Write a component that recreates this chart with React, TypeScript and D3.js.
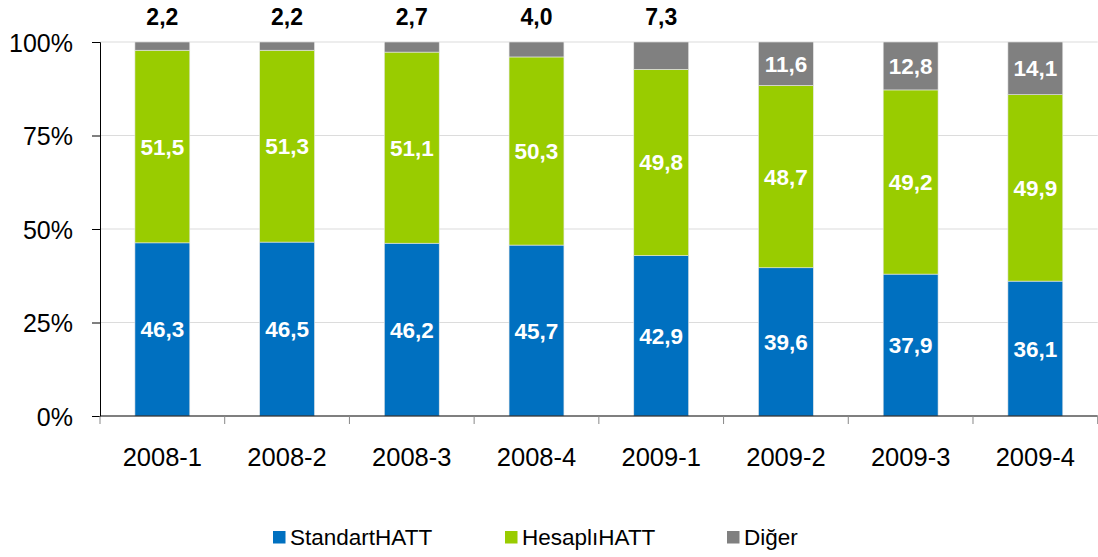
import { useEffect, useRef } from 'react';
import * as d3 from 'd3';

const categories = ['2008-1', '2008-2', '2008-3', '2008-4', '2009-1', '2009-2', '2009-3', '2009-4'];
const seriesNames = ['StandartHATT', 'HesaplıHATT', 'Diğer'];
const standart = [46.3, 46.5, 46.2, 45.7, 42.9, 39.6, 37.9, 36.1];
const hesapli = [51.5, 51.3, 51.1, 50.3, 49.8, 48.7, 49.2, 49.9];
const diger = [2.2, 2.2, 2.7, 4.0, 7.3, 11.6, 12.8, 14.1];
const yTicks = [0, 0.25, 0.5, 0.75, 1];
const colors = ['#0070C0', '#99CC00', '#808080'];

const fmt = (v: number) => v.toFixed(1).replace('.', ',');

export default function App() {
  const svgRef = useRef<SVGSVGElement>(null);
  const width = 1098;
  const height = 557;

  useEffect(() => {
    const svg = d3.select(svgRef.current);
    svg.selectAll('*').remove();

    const font = 'Liberation Sans, Arial, sans-serif';
    const left = 100, right = 1097.7, top = 42, bottom = 416;

    const rows = categories.map((c, i) => ({ cat: c, s0: standart[i], s1: hesapli[i], s2: diger[i] }));
    const keys = ['s0', 's1', 's2'];
    const stacked = d3.stack<any>().keys(keys).offset(d3.stackOffsetExpand)(rows);

    const x = d3.scaleBand().domain(categories).range([left, right]).paddingInner(0.56).paddingOuter(0.28);
    const xb = d3.scaleBand().domain(categories).range([left, right]);
    const y = d3.scaleLinear().domain([0, 1]).range([bottom, top]);

    // gridlines
    svg.append('g').selectAll('line')
      .data(yTicks.filter(t => t > 0))
      .enter().append('line')
      .attr('x1', left).attr('x2', right)
      .attr('y1', d => y(d)).attr('y2', d => y(d))
      .attr('stroke', '#dcdcdc').attr('stroke-width', 1.2);

    // bars
    stacked.forEach((layer, li) => {
      svg.append('g').selectAll('rect')
        .data(layer)
        .enter().append('rect')
        .attr('x', (d: any) => x(d.data.cat)!)
        .attr('width', x.bandwidth())
        .attr('y', d => y(d[1]))
        .attr('height', d => y(d[0]) - y(d[1]))
        .attr('fill', colors[li])
        .attr('stroke', '#e6e6e6')
        .attr('stroke-width', 0.6);
    });

    // labels
    const valueSets = [standart, hesapli, diger];
    stacked.forEach((layer, li) => {
      layer.forEach((d: any, i: number) => {
        const v = valueSets[li][i];
        const cx = x(d.data.cat)! + x.bandwidth() / 2;
        const h = y(d[0]) - y(d[1]);
        const outside = li === 2 && h < 30;
        svg.append('text')
          .attr('x', cx)
          .attr('y', outside ? 25 : (y(d[0]) + y(d[1])) / 2 + 8)
          .attr('text-anchor', 'middle')
          .style('font-family', font)
          .style('font-size', outside ? '23px' : '22.5px')
          .style('font-weight', 'bold')
          .style('fill', outside ? '#000' : '#fff')
          .text(fmt(v));
      });
    });

    // y axis
    const yAxis = svg.append('g').attr('transform', `translate(${left},0)`)
      .call(d3.axisLeft(y).tickValues(yTicks).tickFormat(d => `${Math.round(+d * 100)}%`).tickSize(8).tickPadding(19));
    yAxis.select('.domain').attr('stroke', '#000');
    yAxis.selectAll('.tick line').attr('stroke', '#000');
    yAxis.selectAll('text')
      .style('font-family', font).style('font-size', '25px').attr('fill', '#000').attr('dy', '0.36em');

    // x axis
    const xAxisG = svg.append('g').attr('transform', `translate(0,${bottom})`);
    xAxisG.append('line').attr('x1', left).attr('x2', right).attr('stroke', '#000').attr('stroke-width', 1.2);
    const bounds = categories.map(c => xb(c)!).concat([right]);
    xAxisG.selectAll('.xt').data(bounds).enter().append('line')
      .attr('x1', d => d).attr('x2', d => d).attr('y1', 0).attr('y2', 8)
      .attr('stroke', '#888');
    xAxisG.selectAll('.xl').data(categories).enter().append('text')
      .attr('x', d => xb(d)! + xb.bandwidth() / 2)
      .attr('y', 50)
      .attr('text-anchor', 'middle')
      .style('font-family', font).style('font-size', '25.5px').style('fill', '#000')
      .text(d => d);

    // legend
    const legendX = [273, 505, 727];
    const lg = svg.append('g');
    seriesNames.forEach((name, i) => {
      lg.append('rect').attr('x', legendX[i]).attr('y', 531).attr('width', 12.5).attr('height', 12.5).attr('fill', colors[i]);
      lg.append('text').attr('x', legendX[i] + 17).attr('y', 545)
        .style('font-family', font).style('font-size', '22.5px').style('fill', '#000')
        .text(name);
    });
  }, []);

  return (
    <svg ref={svgRef} width={width} height={height}
      style={{ position: 'absolute', left: 0, top: 0, background: '#fff' }} />
  );
}
